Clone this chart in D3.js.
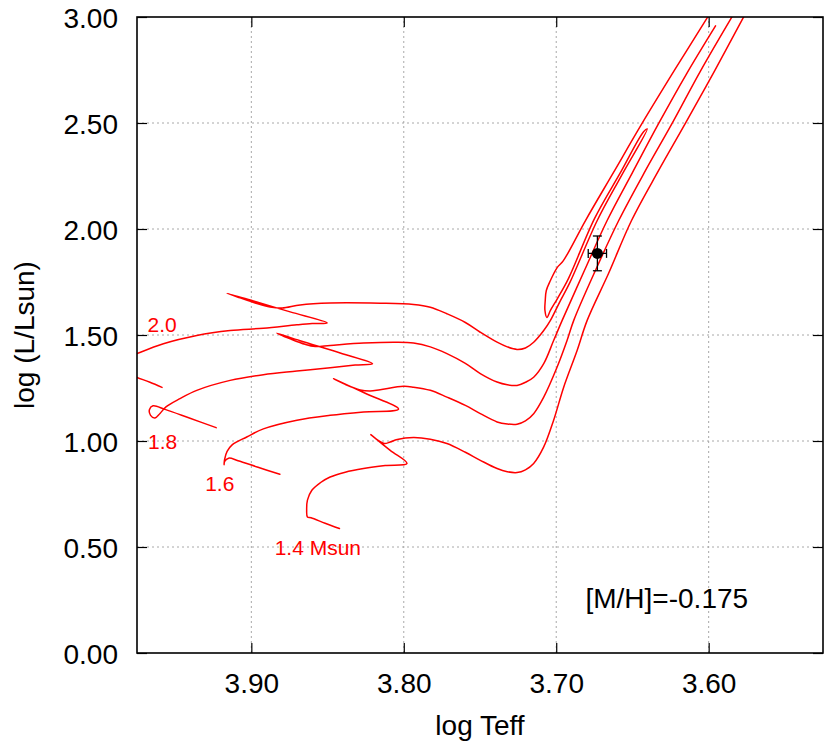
<!DOCTYPE html>
<html><head><meta charset="utf-8">
<script src="https://cdn.jsdelivr.net/npm/d3@7"></script>
<style>
body{margin:0;background:#fff}
text{font-family:"Liberation Sans",Arial,Helvetica,sans-serif}
</style>
</head><body>
<svg id="chart" width="831" height="750"></svg>
<script>
// ---- data ----
const xTicks = [3.90, 3.80, 3.70, 3.60];
const yTicks = [0.0, 0.5, 1.0, 1.5, 2.0, 2.5, 3.0];
const xDomain = [3.975, 3.525];
const yDomain = [0, 3];

// evolutionary tracks: [log Teff, log L/Lsun]
const track14 = [[3.8422,0.587],[3.8516,0.612],[3.8608,0.638],[3.8632,0.642],[3.8637,0.674],[3.8632,0.721],[3.8603,0.768],[3.8548,0.803],[3.8483,0.830],[3.8384,0.853],[3.8264,0.870],[3.8122,0.884],[3.7979,0.894],[3.8089,0.956],[3.8216,1.030],[3.8168,1.003],[3.8128,0.988],[3.8089,0.995],[3.8043,1.007],[3.7936,1.016],[3.7826,1.008],[3.7717,0.988],[3.7596,0.947],[3.7498,0.909],[3.7388,0.870],[3.7321,0.855],[3.7257,0.851],[3.7202,0.864],[3.7148,0.894],[3.7082,0.972],[3.7017,1.098],[3.6951,1.254],[3.6863,1.427],[3.6797,1.569],[3.6657,1.790],[3.6506,2.040],[3.6329,2.275],[3.6152,2.499],[3.5961,2.746],[3.5773,2.997],[3.5712,3.076]];
const track16 = [[3.8813,0.843],[3.8956,0.876],[3.9087,0.907],[3.9149,0.919],[3.9175,0.904],[3.9179,0.888],[3.9175,0.914],[3.9159,0.951],[3.9126,0.982],[3.9030,1.019],[3.8921,1.057],[3.8701,1.098],[3.8483,1.121],[3.8264,1.137],[3.8034,1.150],[3.8253,1.225],[3.8461,1.294],[3.8384,1.267],[3.8286,1.241],[3.8220,1.236],[3.8155,1.242],[3.8002,1.258],[3.7936,1.254],[3.7826,1.239],[3.7717,1.207],[3.7596,1.168],[3.7498,1.129],[3.7388,1.090],[3.7321,1.080],[3.7257,1.079],[3.7202,1.095],[3.7148,1.129],[3.7082,1.207],[3.6994,1.349],[3.6929,1.474],[3.6885,1.569],[3.6743,1.804],[3.6590,2.040],[3.6415,2.275],[3.6239,2.499],[3.6053,2.746],[3.5850,2.997],[3.5784,3.076]];
const track18 = [[3.9231,1.063],[3.9402,1.107],[3.9566,1.149],[3.9645,1.166],[3.9668,1.149],[3.9661,1.121],[3.9632,1.109],[3.9599,1.130],[3.9560,1.161],[3.9468,1.200],[3.9358,1.239],[3.9139,1.286],[3.8921,1.313],[3.8701,1.330],[3.8483,1.346],[3.8319,1.358],[3.8205,1.365],[3.8417,1.415],[3.8680,1.473],[3.8833,1.509],[3.8745,1.482],[3.8647,1.456],[3.8581,1.446],[3.8483,1.451],[3.8264,1.462],[3.8045,1.466],[3.7936,1.462],[3.7826,1.444],[3.7717,1.412],[3.7596,1.366],[3.7498,1.318],[3.7388,1.278],[3.7321,1.265],[3.7257,1.262],[3.7202,1.277],[3.7148,1.301],[3.7082,1.365],[3.7017,1.474],[3.6961,1.569],[3.6815,1.804],[3.6666,2.040],[3.6500,2.266],[3.6327,2.499],[3.6145,2.732],[3.5955,2.958]];
const track20 = [[3.9586,1.253],[3.9665,1.277],[3.9750,1.300],[3.9822,1.321],[3.9862,1.342],[3.9855,1.371],[3.9809,1.394],[3.9750,1.412],[3.9577,1.459],[3.9358,1.498],[3.9139,1.521],[3.8921,1.532],[3.8701,1.548],[3.8601,1.554],[3.8502,1.557],[3.8745,1.609],[3.8975,1.658],[3.9161,1.697],[3.9074,1.675],[3.8975,1.651],[3.8877,1.632],[3.8798,1.627],[3.8680,1.642],[3.8483,1.651],[3.8155,1.650],[3.7936,1.644],[3.7826,1.631],[3.7717,1.600],[3.7596,1.559],[3.7498,1.513],[3.7388,1.466],[3.7321,1.444],[3.7257,1.432],[3.7202,1.439],[3.7148,1.466],[3.7082,1.521],[3.7038,1.569],[3.6979,1.653],[3.6910,1.748],[3.6731,2.040],[3.6572,2.252],[3.6403,2.472],[3.6427,2.459],[3.6579,2.266],[3.6749,2.049],[3.6920,1.766],[3.6992,1.672],[3.7038,1.616],[3.7061,1.583],[3.7074,1.616],[3.7072,1.663],[3.7065,1.710],[3.7038,1.757],[3.6994,1.818],[3.6953,1.851],[3.6808,2.040],[3.6625,2.266],[3.6436,2.499],[3.6218,2.756],[3.6009,2.997],[3.5942,3.076]];
const tracks = [track14, track16, track18, track20];

const trackLabels = [
  {text: "2.0",      logT: 3.9681, logL: 1.512},
  {text: "1.8",      logT: 3.9678, logL: 0.961},
  {text: "1.6",      logT: 3.9303, logL: 0.7645},
  {text: "1.4 Msun", logT: 3.8847, logL: 0.462}
];

const star = {logT: 3.673, errT: 0.006, logL: 1.885, errL: 0.082};
const note = {text: "[M/H]=-0.175", logT: 3.6808, logL: 0.214};
const xTitle = "log Teff";
const yTitle = "log (L/Lsun)";

// ---- drawing ----
const W = 831, H = 750;
const M = {l: 137, t: 17, r: 8, b: 97};
const svg = d3.select("#chart");
const x = d3.scaleLinear().domain(xDomain).range([M.l, W - M.r]);
const y = d3.scaleLinear().domain(yDomain).range([H - M.b, M.t]);

svg.append("rect").attr("width", W).attr("height", H).attr("fill", "#fff");
svg.append("defs").append("clipPath").attr("id", "clip")
  .append("rect").attr("x", M.l).attr("y", M.t)
  .attr("width", W - M.l - M.r).attr("height", H - M.t - M.b);

// grid
const grid = svg.append("g");
grid.selectAll("line.gx").data(xTicks).join("line").attr("class", "gx")
  .attr("x1", d => x(d)).attr("x2", d => x(d))
  .attr("y1", y(yDomain[0])).attr("y2", y(yDomain[1]))
  .attr("stroke", "#a8a8a8").attr("stroke-width", 1).attr("stroke-dasharray", "2,3");
grid.selectAll("line.gy").data(yTicks.filter(d => d > yDomain[0] && d < yDomain[1])).join("line").attr("class", "gy")
  .attr("y1", d => y(d)).attr("y2", d => y(d))
  .attr("x1", x(xDomain[0])).attr("x2", x(xDomain[1]))
  .attr("stroke", "#a8a8a8").attr("stroke-width", 1).attr("stroke-dasharray", "2,3");

// tracks
const line = d3.line().x(d => x(d[0])).y(d => y(d[1])).curve(d3.curveCatmullRom.alpha(0.5));
svg.append("g").attr("clip-path", "url(#clip)")
  .selectAll("path").data(tracks).join("path")
  .attr("d", line).attr("fill", "none").attr("stroke", "#ff0000")
  .attr("stroke-width", 1.5).attr("stroke-linejoin", "round").attr("stroke-linecap", "round");

// track labels
svg.append("g").selectAll("text").data(trackLabels).join("text")
  .attr("x", d => x(d.logT)).attr("y", d => y(d.logL))
  .attr("fill", "#ff0000").attr("font-size", 21).text(d => d.text);

// star with error bars
const sg = svg.append("g").attr("stroke", "#000").attr("stroke-width", 1.3);
const cx = x(star.logT), cy = y(star.logL);
const xl = x(star.logT + star.errT), xr = x(star.logT - star.errT);
const yt = y(star.logL + star.errL), yb = y(star.logL - star.errL);
sg.append("line").attr("x1", cx).attr("x2", cx).attr("y1", yt).attr("y2", yb);
sg.append("line").attr("x1", cx - 4.5).attr("x2", cx + 4.5).attr("y1", yt).attr("y2", yt);
sg.append("line").attr("x1", cx - 4.5).attr("x2", cx + 4.5).attr("y1", yb).attr("y2", yb);
sg.append("line").attr("x1", xl).attr("x2", xr).attr("y1", cy).attr("y2", cy);
sg.append("line").attr("x1", xl).attr("x2", xl).attr("y1", cy - 4.5).attr("y2", cy + 4.5);
sg.append("line").attr("x1", xr).attr("x2", xr).attr("y1", cy - 4.5).attr("y2", cy + 4.5);
svg.append("circle").attr("cx", cx).attr("cy", cy).attr("r", 5.5).attr("fill", "#000");

// axes
const fmt = d3.format(".2f");
function styleAxis(g) {
  g.select(".domain").remove();
  g.selectAll(".tick line").attr("stroke", "#000").attr("stroke-width", 1.2);
  g.selectAll(".tick text").attr("font-size", 28).attr("fill", "#000")
    .attr("font-family", '"Liberation Sans",Arial,Helvetica,sans-serif');
}
svg.append("g").attr("transform", `translate(0,${y(yDomain[0])})`)
  .call(d3.axisBottom(x).tickValues(xTicks).tickFormat(fmt).tickSizeInner(-10).tickSizeOuter(0).tickPadding(20))
  .call(styleAxis);
svg.append("g").attr("transform", `translate(0,${y(yDomain[1])})`)
  .call(d3.axisTop(x).tickValues(xTicks).tickFormat("").tickSizeInner(-10).tickSizeOuter(0))
  .call(styleAxis);
svg.append("g").attr("transform", `translate(${x(xDomain[0])},0)`)
  .call(d3.axisLeft(y).tickValues(yTicks).tickFormat(fmt).tickSizeInner(-10).tickSizeOuter(0).tickPadding(19))
  .call(styleAxis)
  .call(g => g.selectAll(".tick text").attr("dy", "0.36em"));
svg.append("g").attr("transform", `translate(${x(xDomain[1])},0)`)
  .call(d3.axisRight(y).tickValues(yTicks).tickFormat("").tickSizeInner(-10).tickSizeOuter(0))
  .call(styleAxis);

// frame
svg.append("rect").attr("x", M.l).attr("y", M.t)
  .attr("width", W - M.l - M.r).attr("height", H - M.t - M.b)
  .attr("fill", "none").attr("stroke", "#000").attr("stroke-width", 1.6);

// titles
svg.append("text").attr("x", (M.l + W - M.r) / 2).attr("y", 735)
  .attr("text-anchor", "middle").attr("font-size", 28).attr("fill", "#000").text(xTitle);
svg.append("text").attr("transform", `translate(34,${(M.t + H - M.b) / 2}) rotate(-90)`)
  .attr("text-anchor", "middle").attr("font-size", 28).attr("fill", "#000").text(yTitle);

// metallicity note
svg.append("text").attr("x", x(note.logT)).attr("y", y(note.logL))
  .attr("font-size", 28).attr("fill", "#000").text(note.text);
</script>
</body></html>
